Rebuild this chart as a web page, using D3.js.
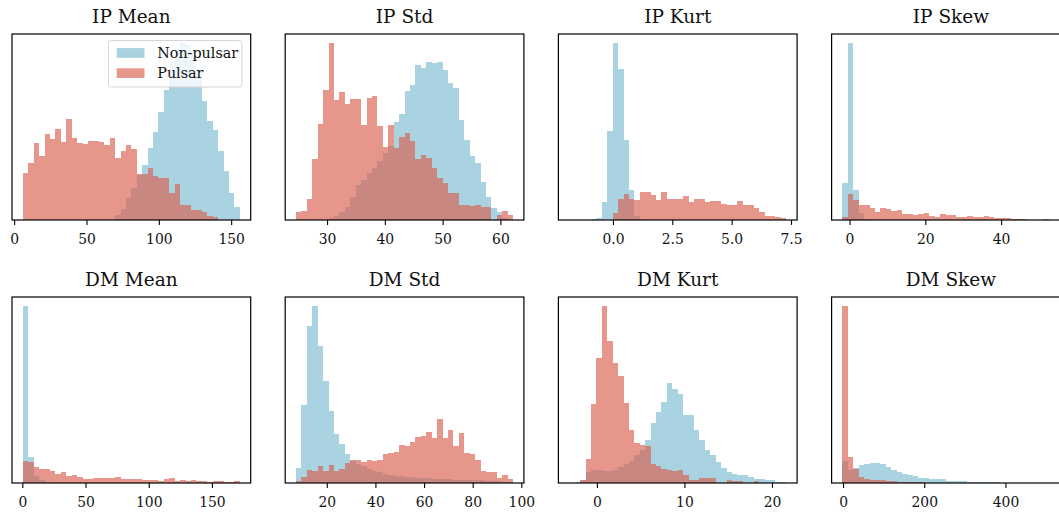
<!DOCTYPE html>
<html><head><meta charset="utf-8">
<script src="https://cdn.jsdelivr.net/npm/d3@7"></script>
<style>html,body{margin:0;padding:0;background:#fff;overflow:hidden;width:1059px;height:513px}</style>
</head><body><div id="chart"></div>
<script>
// ---- DATA ----
const titles = ["IP Mean","IP Std","IP Kurt","IP Skew","DM Mean","DM Std","DM Kurt","DM Skew"];
const seriesNames = ["Non-pulsar","Pulsar"];
// histogram bin range [first edge, last edge], 40 equal bins each
const binRanges = [[6,156],[24.63,62.19],[-1.84,7.30],[-1.87,55.4],[0.4,172.1],[7.36,96.6],[-3.16,21.63],[-1.5,533]];
const tickValues = [[0,50,100,150],[30,40,50,60],[0,2.5,5,7.5],[0,20,40],[0,50,100,150],[20,40,60,80,100],[0,10,20],[0,200,400]];
const tickFormats = ["d","d",".1f","d","d","d","d","d"];

// relative bar heights (density, arbitrary units)
const ipMeanNon = [0,0,0,0,0,0,0,0,0,0,0,0,0,0,0,0,0,15,32,65,95,135,163,213,263,320,387,470,510,527,520,500,450,353,295,267,205,145,80,38];
const ipMeanPul = [141,171,228,190,257,242,270,232,300,243,230,227,235,235,232,224,243,184,206,222,210,138,138,155,130,125,125,80,108,45,45,30,30,25,12,8,0,0,0,0];
const ipStdNon = [0,0,0,0,0,0,5,12,23,40,70,105,120,140,155,178,200,220,292,317,385,405,465,455,473,470,473,450,410,395,300,240,190,170,115,70,35,25,5,0];
const ipStdPul = [25,28,63,184,287,390,530,358,383,348,362,362,285,366,370,280,217,285,215,247,260,235,182,195,185,155,125,112,82,82,45,45,42,45,40,40,0,15,28,15];
const ipKurtNon = [0,0,1,1,2,5,55,267,530,452,238,90,12,3,0,0,0,0,0,0,0,0,0,0,0,0,0,0,0,0,0,0,0,0,0,0,0,0,0,0];
const ipKurtPul = [0,0,0,0,0,0,0,0,20,62,77,62,60,83,83,75,60,85,62,62,62,72,55,62,62,53,57,57,48,45,45,57,45,45,35,25,12,12,8,5];
const ipSkewNon = [110,529,89,22,3,0,0,0,0,0,0,0,0,0,0,0,0,0,0,0,0,0,0,0,0,0,0,0,0,0,0,0,0,0,0,0,0,0,0,0];
const ipSkewPul = [9,77,60,46,44,37,24,36,32,27,29,17,17,15,17,22,12,10,17,14,14,10,10,12,10,8,13,8,7,7,5,2,2,2,1,1,1,2,1,1];
const dmMeanNon = [530,77,20,8,4,2,1,1,0,0,0,0,0,0,0,0,0,0,0,0,0,0,0,0,0,0,0,0,0,0,0,0,0,0,0,0,0,0,0,0];
const dmMeanPul = [65,64,48,43,41,35,26,33,21,23,17,12,12,16,15,15,15,17,13,11,13,11,10,10,10,6,13,14,6,10,7,10,6,5,4,7,5,4,3,5];
const dmStdNon = [46,233,470,531,410,305,215,148,118,88,66,58,50,42,36,32,28,24,22,20,18,17,16,15,14,13,12,12,11,10,10,9,9,8,8,7,6,5,4,3];
const dmStdPul = [6,18,38,35,50,35,55,36,43,60,68,68,63,70,66,70,86,91,94,115,112,123,138,141,153,135,191,135,158,110,149,90,88,68,36,33,33,16,25,13];
const dmKurtNon = [0,3,8,32,40,38,36,36,40,48,58,65,83,100,130,180,213,243,300,283,266,205,203,158,128,100,83,63,46,33,28,23,23,18,12,12,8,8,4,3];
const dmKurtPul = [0,0,8,72,238,376,531,425,360,321,241,160,120,113,110,56,50,43,40,35,38,23,10,8,15,15,15,0,0,8,5,5,0,0,5,0,0,0,0,0];
const dmSkewNon = [67,40,45,54,56,60,60,57,47,40,34,27,24,20,16,14,11,11,11,7,7,6,5,4,4,4,3,2,2,1,1,1,1,1,0,0,0,0,0,0];
const dmSkewPul = [530,77,42,17,12,8,9,9,7,5,4,3,3,2,2,1,1,1,0,0,0,0,0,0,0,0,0,0,0,0,0,0,0,0,0,0,0,0,0,0];

const nonPulsar = [ipMeanNon, ipStdNon, ipKurtNon, ipSkewNon, dmMeanNon, dmStdNon, dmKurtNon, dmSkewNon];
const pulsar = [ipMeanPul, ipStdPul, ipKurtPul, ipSkewPul, dmMeanPul, dmStdPul, dmKurtPul, dmSkewPul];

// ---- STYLE / LAYOUT ----
const blueColor = "#a9d3e0", redColor = "#d9604f", redOpacity = 0.66;
const font = "'DejaVu Serif', serif";
const panelW = 238.7, panelH = 186, colStep = 273.2;
const colX0 = 12, rowY = [34, 297];

const svg = d3.select("#chart").append("svg")
  .attr("width", 1080).attr("height", 513)
  .style("font-family", font);

const defs = svg.append("defs");

titles.forEach((title, i) => {
  const row = Math.floor(i / 4), col = i % 4;
  const x0 = colX0 + col * colStep, y0 = rowY[row];
  const [lo, hi] = binRanges[i];
  const n = nonPulsar[i].length;
  const bw = (hi - lo) / n;
  const pad = 0.05 * (hi - lo);
  const x = d3.scaleLinear().domain([lo - pad, hi + pad]).range([x0, x0 + panelW]);
  const ymax = d3.max(nonPulsar[i].concat(pulsar[i])) * 1.05;
  const y = d3.scaleLinear().domain([0, ymax]).range([y0 + panelH, y0]);

  const clipId = "clip" + i;
  defs.append("clipPath").attr("id", clipId).append("rect")
    .attr("x", x0).attr("y", y0).attr("width", panelW).attr("height", panelH);

  const g = svg.append("g").attr("clip-path", `url(#${clipId})`);
  const mk = arr => arr.map((v, k) => ({x0: lo + k * bw, x1: lo + (k + 1) * bw, v}));

  g.selectAll("rect.non").data(mk(nonPulsar[i]).filter(d => d.v > 0)).join("rect")
    .attr("class", "non")
    .attr("x", d => x(d.x0)).attr("width", d => x(d.x1) - x(d.x0))
    .attr("y", d => y(d.v)).attr("height", d => y(0) - y(d.v))
    .attr("fill", blueColor).attr("shape-rendering", "crispEdges");
  g.selectAll("rect.pul").data(mk(pulsar[i]).filter(d => d.v > 0)).join("rect")
    .attr("class", "pul")
    .attr("x", d => x(d.x0)).attr("width", d => x(d.x1) - x(d.x0))
    .attr("y", d => y(d.v)).attr("height", d => y(0) - y(d.v))
    .attr("fill", redColor).attr("fill-opacity", redOpacity).attr("shape-rendering", "crispEdges");

  // x axis
  const ax = svg.append("g").attr("transform", `translate(0,${y0 + panelH})`)
    .call(d3.axisBottom(x).tickValues(tickValues[i]).tickFormat(d3.format(tickFormats[i])).tickSize(4.9));
  ax.select(".domain").remove();
  ax.selectAll(".tick line").attr("stroke", "#000").attr("stroke-width", 1.1);
  ax.selectAll(".tick text").attr("y", 24.3).attr("dy", null)
    .attr("fill", "#111").style("font-size", "13.9px").style("font-family", font);

  // spines
  svg.append("rect").attr("x", x0).attr("y", y0).attr("width", panelW).attr("height", panelH)
    .attr("fill", "none").attr("stroke", "#000").attr("stroke-width", 1.2);

  // title
  svg.append("text").attr("x", x0 + panelW / 2).attr("y", y0 - 11.5)
    .attr("text-anchor", "middle").style("font-size", "18.5px").attr("fill", "#111").text(title);

  // legend on first panel
  if (i === 0) {
    const lg = svg.append("g");
    lg.append("rect").attr("x", 108.5).attr("y", 40.5).attr("width", 133.5).attr("height", 46.5)
      .attr("rx", 3).attr("fill", "#fff").attr("fill-opacity", 0.8)
      .attr("stroke", "#d5d5d5").attr("stroke-width", 1);
    const colors = [[blueColor, 1], [redColor, redOpacity]];
    seriesNames.forEach((name, j) => {
      const cy = 53 + j * 20.2;
      lg.append("rect").attr("x", 116.7).attr("y", cy - 4.9).attr("width", 27.8).attr("height", 9.7)
        .attr("fill", colors[j][0]).attr("fill-opacity", colors[j][1]);
      lg.append("text").attr("x", 157.3).attr("y", cy + 5).style("font-size", "14.3px")
        .attr("fill", "#111").text(name);
    });
  }
});
</script></body></html>
